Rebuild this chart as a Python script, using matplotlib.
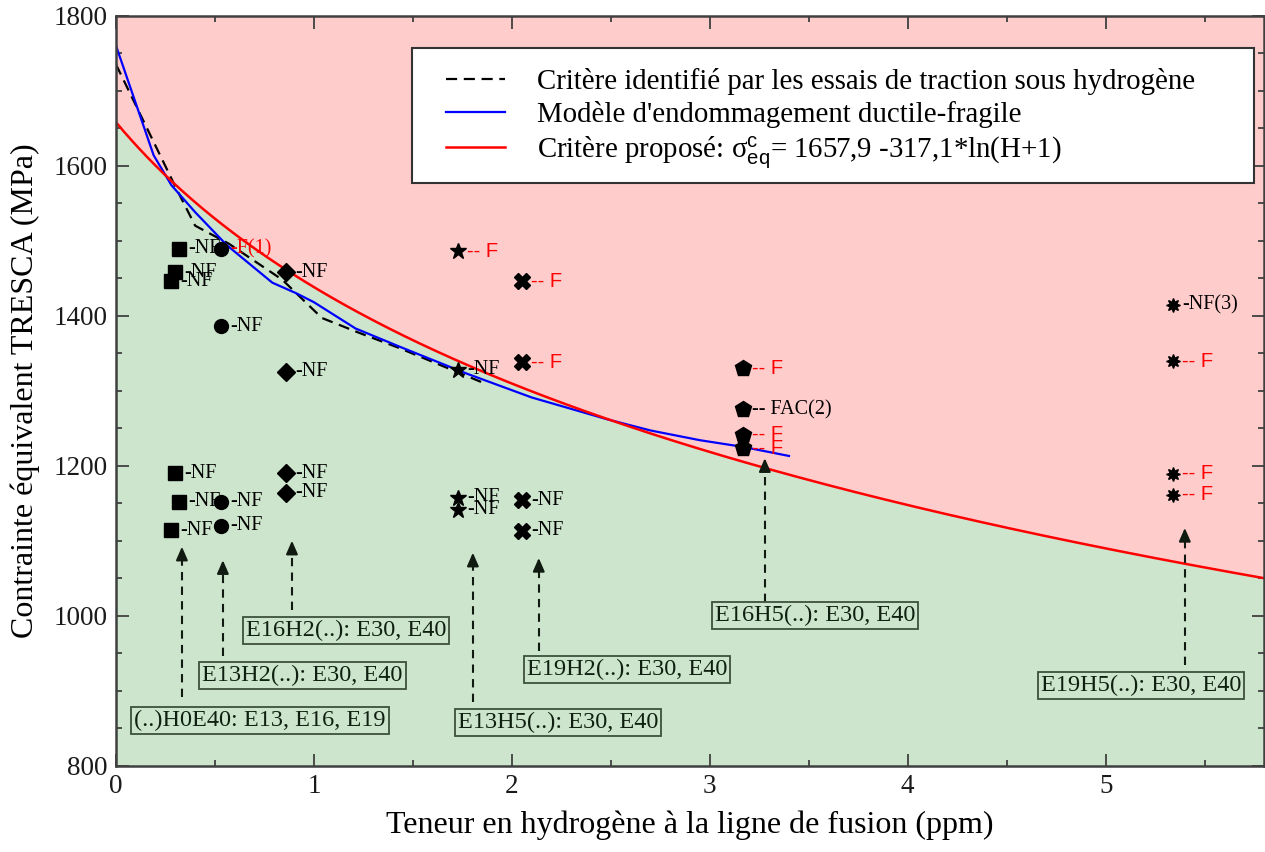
import numpy as np
import matplotlib
matplotlib.use("Agg")
import matplotlib.pyplot as plt
from matplotlib.ticker import MultipleLocator
from matplotlib.patches import Rectangle

plt.rcParams['font.family'] = ['Liberation Serif', 'DejaVu Serif']
plt.rcParams['mathtext.fontset'] = 'custom'
plt.rcParams['mathtext.rm'] = 'Liberation Serif'
plt.rcParams['mathtext.it'] = 'Liberation Serif:italic'
plt.rcParams['mathtext.bf'] = 'Liberation Serif:bold'
plt.rcParams['mathtext.sf'] = 'Liberation Sans'

# ---------------- data ----------------
# Proposed criterion: sigma = A - B*ln(H+1)
crit_A = 1657.9
crit_B = 317.1

# Ductile-brittle damage model (blue)
model_h = [0.0, 0.19, 0.28, 0.40, 0.56, 0.79, 0.91, 1.00, 1.21, 1.43, 1.77, 2.10, 2.48, 2.70, 2.95, 3.17, 3.40]
model_s = [1760, 1614, 1574, 1538, 1494, 1444, 1430, 1418, 1383, 1359, 1323, 1291, 1262, 1247, 1234, 1225, 1213]

# Criterion from tensile tests under hydrogen (black dashed)
tens_h = [0.0, 0.30, 0.40, 0.57, 0.84, 1.04, 1.23, 1.43, 1.86]
tens_s = [1735, 1572, 1520, 1496, 1448, 1397, 1377, 1357, 1310]

# Test series
sq_h = [0.32, 0.30, 0.28, 0.30, 0.32, 0.28]
sq_s = [1489, 1458, 1446, 1190, 1152, 1114]
sq_lab = ['-NF', '-NF', '-NF', '-NF', '-NF', '-NF']

ci_h = [0.53, 0.53, 0.53, 0.53]
ci_s = [1489, 1386, 1152, 1120]
ci_lab = ['-F(1)', '-NF', '-NF', '-NF']

di_h = [0.86, 0.86, 0.86, 0.86]
di_s = [1458, 1325, 1190, 1164]
di_lab = ['-NF', '-NF', '-NF', '-NF']

st_h = [1.727, 1.727, 1.727, 1.727]
st_s = [1486, 1328, 1157, 1141]
st_lab = ['-- F', '-NF', '-NF', '-NF']

xx_h = [2.05, 2.05, 2.05, 2.05]
xx_s = [1446, 1338, 1154, 1113]
xx_lab = ['-- F', '-- F', '-NF', '-NF']

pe_h = [3.167, 3.167, 3.167, 3.167]
pe_s = [1330, 1275, 1241, 1223]
pe_lab = ['-- F', '-- FAC(2)', '-- F', '-- F']

as_h = [5.34, 5.34, 5.34, 5.34]
as_s = [1414, 1339, 1189, 1161]
as_lab = ['-NF(3)', '-- F', '-- F', '-- F']

box_texts = ['(..)H0E40: E13, E16, E19', 'E13H2(..): E30, E40', 'E16H2(..): E30, E40',
             'E13H5(..): E30, E40', 'E19H2(..): E30, E40', 'E16H5(..): E30, E40',
             'E19H5(..): E30, E40']

legend_labels = ["Critère identifié par les essais de traction sous hydrogène",
                 "Modèle d'endommagement ductile-fragile",
                 r"Critère proposé: $\mathrm{\sigma}^{\mathsf{c}}_{\mathsf{eq}}$= 1657,9 -317,1*ln(H+1)"]

x_label = "Teneur en hydrogène à la ligne de fusion (ppm)"
y_label = "Contrainte équivalent TRESCA (MPa)"

# ---------------- layout ----------------
box_pos = [(0.727, 860), (0.942, 920), (1.164, 980), (2.235, 857), (2.583, 928), (3.53, 1000), (5.179, 907)]
arrow_pos = [(0.333, 892, 1092), (0.540, 946, 1074), (0.889, 1008, 1100), (1.803, 885, 1084),
             (2.136, 953, 1077), (3.278, 1018, 1210), (5.40, 934, 1117)]

fig = plt.figure(figsize=(12.65, 8.52), dpi=100)
ax = fig.add_axes([116/1265, 1-765.7/852, 1148/1265, 750/852])

xmin, xmax, ymin, ymax = 0, 5.8, 800, 1800
hh = np.linspace(xmin, xmax, 600)
crit = crit_A - crit_B*np.log(hh+1)

ax.fill_between(hh, ymin, crit, color='#cce5cc', lw=0, zorder=0)
ax.fill_between(hh, crit, ymax, color='#ffcccc', lw=0, zorder=0)

l1, = ax.plot(tens_h, tens_s, color='black', ls=(0, (5, 3)), lw=1.6, zorder=2)
l2, = ax.plot(model_h, model_s, color='#0000ff', lw=1.6, zorder=2)
l3, = ax.plot(hh, crit, color='#ff0000', lw=1.8, zorder=2)

series = [
    (sq_h, sq_s, sq_lab, dict(marker='s', ms=10)),
    (ci_h, ci_s, ci_lab, dict(marker='o', ms=10)),
    (di_h, di_s, di_lab, dict(marker='D', ms=9)),
    (st_h, st_s, st_lab, dict(marker='*', ms=12)),
    (xx_h, xx_s, xx_lab, dict(marker='X', ms=11)),
    (pe_h, pe_s, pe_lab, dict(marker='p', ms=12)),
    (as_h, as_s, as_lab, dict(marker=(8, 1, 0), ms=10)),
]
for hs, ss, labs, st in series:
    ax.plot(hs, ss, ls='none', color='black', mec='black', zorder=4, **st)
    for h, s, lab in zip(hs, ss, labs):
        red = (lab.startswith('-- F') and lab != '-- FAC(2)') or lab.startswith('-F(')
        fam = ['Liberation Sans'] if lab == '-- F' else ['Liberation Serif']
        ax.annotate(lab, (h, s), xytext=(6.5, 0), textcoords='offset points',
                    va='center', ha='left', fontsize=14.5,
                    color='#ff0000' if red else 'black', family=fam, zorder=5)

for (bx, by), txt in zip(box_pos, box_texts):
    ax.text(bx, by, txt, ha='center', va='center', fontsize=17.5, color='#102010', zorder=5,
            bbox=dict(boxstyle='square,pad=0.12', facecolor='none', edgecolor='#3c503c', lw=1.3))

for ahx, y0, y1 in arrow_pos:
    ax.plot([ahx, ahx], [y0, y1 - 10], color='#101a10', ls=(0, (4, 3)), lw=1.5, zorder=3)
    ax.annotate('', xy=(ahx, y1), xytext=(ahx, y1 - 16),
                arrowprops=dict(arrowstyle='-|>,head_length=0.8,head_width=0.35',
                                color='#101a10', lw=1.5, shrinkA=0, shrinkB=0), zorder=3)

ax.set_xlim(xmin, xmax)
ax.set_ylim(ymin, ymax)
ax.xaxis.set_major_locator(MultipleLocator(1))
ax.xaxis.set_minor_locator(MultipleLocator(0.5))
ax.yaxis.set_major_locator(MultipleLocator(200))
ax.yaxis.set_minor_locator(MultipleLocator(50))
ax.tick_params(which='both', direction='in', top=True, right=True, color='#404040', width=1.3)
ax.tick_params(which='major', length=9, labelsize=19.5, labelcolor='#1a1a1a', pad=6)
ax.tick_params(which='minor', length=4.5)
for sp in ax.spines.values():
    sp.set_color('#404040')
    sp.set_linewidth(1.8)

ax.set_xlabel(x_label, fontsize=23, labelpad=8)
ax.set_ylabel(y_label, fontsize=23, labelpad=10)

# legend
def axx(px):
    return (px - 116) / 1148
def axy(py):
    return (765.7 - py) / 750

ax.add_patch(Rectangle((axx(412), axy(183)), axx(1254) - axx(412), axy(48) - axy(183),
                       transform=ax.transAxes, facecolor='white', edgecolor='#333333',
                       lw=1.5, zorder=6))
leg = ax.legend([l1, l2, l3], legend_labels, loc='center left',
                bbox_to_anchor=(axx(446), axy(119)), frameon=False, fontsize=20.8,
                handlelength=2.05, handletextpad=1.1, labelspacing=0.2,
                borderpad=0, borderaxespad=0)
leg.set_zorder(7)

fig.savefig('out.png', dpi=100)
